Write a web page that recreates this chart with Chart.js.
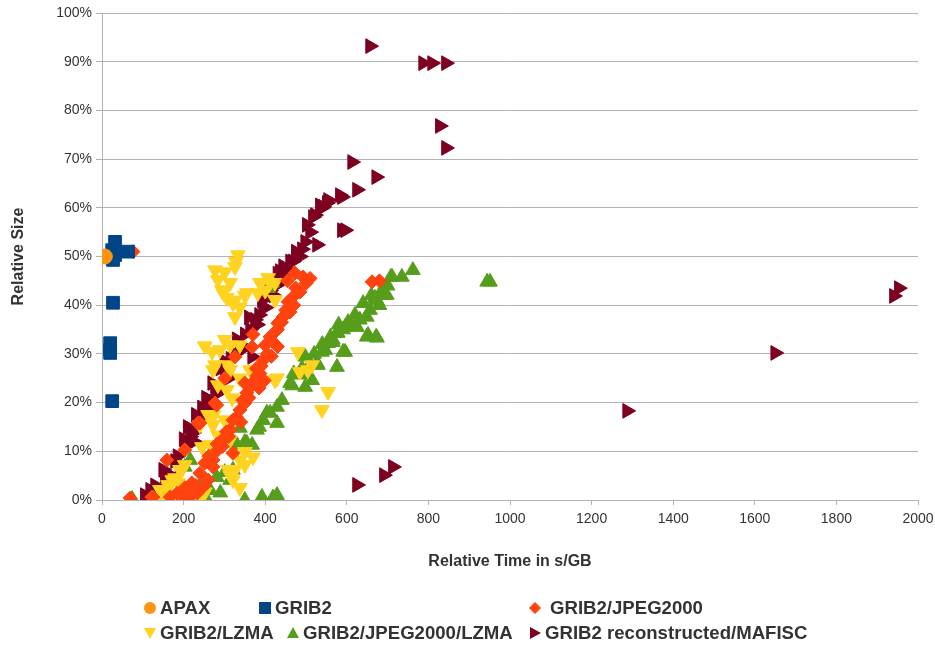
<!DOCTYPE html>
<html>
<head>
<meta charset="utf-8">
<script src="https://cdn.jsdelivr.net/npm/chart.js@4"></script>
<style>
  html, body { margin: 0; padding: 0; background: #fff; }
  #wrap { position: relative; width: 935px; height: 645px; }
  #chart { position: absolute; left: 0; top: 0; }
  .leg { position: absolute; font: bold 18.6px "Liberation Sans", Arial, sans-serif; color: #333; white-space: nowrap; line-height: 20px; }
  .leg svg { position: absolute; top: 3px; }
</style>
</head>
<body>
<div id="wrap">
	<canvas id="chart" width="935" height="645"></canvas>
	<div id="legend"></div>
</div>
<script>
// series names and colours
const seriesNames = ["APAX", "GRIB2", "GRIB2/JPEG2000", "GRIB2/LZMA", "GRIB2/JPEG2000/LZMA", "GRIB2 reconstructed/MAFISC"];
const seriesColors = ["#ff950e", "#004586", "#ff420e", "#ffd320", "#579d1c", "#7e0021"];

// relative time (s/GB) and relative size (%) per series
const apaxX = [7];
const apaxY = [50];

const grib2X = [32, 25, 32, 15, 64, 27, 27, 20, 20, 20, 25];
const grib2Y = [53, 51.3, 50.3, 50, 51, 49.3, 40.5, 32.2, 30.8, 30.2, 20.3];

const jpegX = [76, 69, 122, 159, 203, 240, 281, 301, 326, 370, 272, 321,
	510, 493, 473, 485, 468, 456, 461, 444, 431, 424, 412, 400, 395, 387, 375, 355, 350, 338,
	321, 314, 301, 284, 272, 252, 240, 220, 203, 184, 167, 125, 235, 277, 368, 260, 248, 233,
	345, 362, 380, 390, 405, 418, 430, 440, 450, 470, 475, 500, 455, 290, 305, 330, 262, 282,
	360, 415, 430, 398, 378, 350, 662, 680, 230, 210, 195, 215, 310, 295, 340, 385];
const jpegY = [51, 0.4, 0.6, 8.2, 10.3, 15.8, 19.5, 25, 29.4, 34, 6.8, 9.6,
	45.5, 45.8, 46.6, 42.7, 41.7, 40.7, 38.6, 37.6, 36.3, 34.5, 33.5, 31.8, 28.7, 26, 24.6, 22, 19.9, 18.5,
	16.4, 14.4, 12.7, 10.3, 8.2, 7.6, 5.5, 3.5, 2.5, 1.4, 0.6, 0.6, 15.8, 19.9, 31.4, 4.1, 2.7, 1.4,
	20.5, 23, 25.5, 27.5, 30, 32.5, 35, 36.5, 39, 40, 43.5, 44.5, 45, 12, 14, 17, 9, 11.5,
	21, 29.5, 31.5, 24.5, 27, 24, 44.8, 45, 3, 2.2, 1, 0.5, 13, 11, 16, 23];

const lzmaX = [333, 328, 277, 301, 284, 314, 294, 326, 338, 306, 350, 382, 400, 412, 424, 326,
	297, 321, 326, 355, 387, 407, 424, 252, 270, 289, 314, 338, 301, 277, 314, 363, 309, 272,
	284, 338, 424, 429, 485, 480, 515, 505, 554, 539, 319, 274, 301, 240, 284, 314, 265, 350,
	326, 203, 191, 179, 162, 142, 147, 172, 216, 252, 338, 314, 350, 370, 260, 272, 245, 260,
	196, 172, 186, 159, 223, 245, 309, 321, 338, 306];
const lzmaY = [50.3, 48.9, 47.2, 46.8, 45.2, 44.6, 43.1, 41, 39.6, 41.5, 42, 42.5, 43, 44.6, 44.6, 47.9,
	42.5, 40.4, 37.6, 42.5, 44.6, 45.6, 41.1, 31.6, 30.4, 30.8, 31.8, 31.8, 32.9, 27.7, 26.7, 26.7, 27.7, 26.7,
	23.6, 25, 24.6, 25, 26.3, 30.4, 27.7, 26.7, 22.2, 18.5, 20.9, 17.5, 16.4, 15.4, 13.3, 12.3, 11.3, 9.9,
	6.2, 7.2, 6.2, 4.5, 3.1, 2.1, 0.4, 0.8, 0.6, 1.6, 2.5, 5.1, 7.2, 8.8, 17.5, 15.4, 10.9, 8.8,
	6.2, 4.1, 3.5, 2.1, 1.4, 0.6, 6.2, 4.1, 8.2, 22.6];

const jpegLzmaX = [74, 216, 203, 216, 257, 281, 314, 301, 321, 338, 350, 331, 326, 355, 368, 380,
	385, 395, 404, 412, 429, 429, 441, 461, 466, 485, 498, 515, 498, 527, 529, 539, 554, 566,
	576, 578, 596, 596, 608, 625, 640, 649, 652, 657, 672, 674, 689, 698, 711, 735, 762, 944,
	951, 350, 392, 419, 429, 407, 417, 708, 694, 686, 669, 632, 603, 591, 576, 566, 547, 591,
	649, 674, 240, 265, 290, 470, 490, 510, 520, 540, 560, 580, 620, 660, 700, 680];
const jpegLzmaY = [0.2, 2.1, 6.8, 8.2, 0, 4.7, 4.1, 5.7, 6.2, 14.8, 11.9, 11.3, 11.7, 11.7, 11.3, 14.4,
	15, 16.4, 17.9, 17.9, 15.8, 19.1, 20.5, 24, 23.5, 25.7, 23.2, 24.6, 29.4, 28.1, 27.7, 30.4, 32.2, 32.9,
	27.3, 34.3, 35.5, 30.4, 36.3, 35.5, 40.4, 37.6, 33.9, 39, 33.5, 41, 43.1, 42.1, 45.8, 45.8, 47.2, 44.8,
	44.8, 0, 0.6, 0.5, 1, 43.5, 44.6, 45.8, 42.1, 43, 41.5, 37, 36.5, 35, 34.3, 32.4, 30.8, 30.4,
	33.5, 33.3, 3, 2, 1.5, 26, 27, 28, 30, 32, 33.5, 36, 38, 42, 44, 40];

const mafiscX = [105, 110, 118, 130, 140, 150, 154, 165, 179, 190, 203, 216, 223, 225, 240, 250,
	260, 265, 277, 281, 285, 301, 310, 326, 338, 345, 368, 363, 375, 380, 392, 395, 400, 412,
	420, 436, 445, 453, 461, 468, 444, 485, 498, 502, 510, 517, 522, 527, 534, 539, 542, 551,
	554, 583, 588, 588, 596, 625, 613, 672, 657, 787, 809, 843, 828, 843, 1650, 1287, 1941,
	1953, 625, 691, 713, 170, 185, 200, 210, 230, 245, 255, 270, 290, 300, 315, 330, 350, 360,
	385, 405, 425, 430, 450, 475, 490];
const mafiscY = [1, 0.6, 2.1, 3, 1.5, 6.2, 5, 4, 8, 7, 11, 13, 13.8, 12, 16, 17,
	18.5, 20.5, 23, 22, 22, 26, 25, 30, 32, 31, 29.4, 35, 37, 36, 41, 39.6, 39.5, 43,
	42, 47, 45, 46.6, 49, 49, 48, 50, 53, 56.5, 55, 58.1, 58.5, 52.4, 60.5, 60, 60.2, 61,
	61.6, 62.6, 62.2, 55.4, 55.4, 63.7, 69.4, 66.3, 93.2, 89.7, 89.7, 89.7, 76.8, 72.3, 30.2, 18.3, 41.9,
	43.5, 3.1, 5.1, 6.8, 5, 9, 12.5, 15, 17.5, 19, 21, 24, 27, 28.5, 29, 33, 34, 37.5,
	38, 42, 44, 46.5, 47.5, 51, 51.5];

// x/y tick settings
const xTickStep = 200;
const yTickStep = 10;

function zip(xs, ys) {
	return xs.map((x, i) => ({ x: x, y: ys[i] }));
}

const seriesData = [
	zip(apaxX, apaxY),
	zip(grib2X, grib2Y),
	zip(jpegX, jpegY),
	zip(lzmaX, lzmaY),
	zip(jpegLzmaX, jpegLzmaY),
	zip(mafiscX, mafiscY),
];
const pointStyles = ["circle", "rect", "rectRot", "triangle", "triangle", "triangle"];
const pointRotations = [0, 0, 0, 180, 0, 90];
const pointRadii = [7.5, 9, 7, 8.5, 8.5, 8.5];

const gridColor = "#b3b3b3";
Chart.defaults.font.family = '"Liberation Sans", Arial, sans-serif';
Chart.defaults.color = "#333333";

const ctx = document.getElementById("chart").getContext("2d");
new Chart(ctx, {
	type: "scatter",
	data: {
		datasets: seriesNames.map((name, i) => ({
			label: name,
			data: seriesData[i],
			backgroundColor: seriesColors[i],
			borderColor: seriesColors[i],
			borderWidth: 1,
			pointStyle: pointStyles[i],
			rotation: pointRotations[i],
			pointRadius: pointRadii[i],
			pointHoverRadius: pointRadii[i],
		})),
	},
	options: {
		responsive: false,
		animation: false,
		layout: { padding: { left: 0, top: 13, right: 17, bottom: 70 } },
		plugins: { legend: { display: false }, tooltip: { enabled: false } },
		scales: {
			x: {
				type: "linear",
				min: 0,
				max: 2000,
				ticks: { stepSize: xTickStep, padding: 6, font: { size: 14 }, callback: (v) => String(v) },
				grid: { drawOnChartArea: false, drawTicks: true, tickLength: 5, color: gridColor },
				border: { color: gridColor },
				title: { display: true, text: "Relative Time in s/GB", font: { size: 16, weight: "bold" }, padding: { top: 4, bottom: 4 } },
				afterFit: function (scale) {
					scale.height = 75;
					scale.paddingLeft = 0;
					scale.paddingRight = 0;
				},
			},
			y: {
				type: "linear",
				min: 0,
				max: 100,
				ticks: { stepSize: yTickStep, padding: 4, font: { size: 14 }, callback: (v) => v + "%" },
				grid: { color: gridColor, tickLength: 6 },
				border: { color: gridColor },
				title: { display: true, text: "Relative Size", font: { size: 16, weight: "bold" }, padding: { top: 9, bottom: 0 } },
				afterFit: function (scale) { scale.width = 102; },
			},
		},
	},
});

// legend below the plot, laid out like the original
const legendSlots = [
	{ left: 143, top: 598 }, { left: 258, top: 598 }, { left: 528, top: 598 },
	{ left: 143, top: 623 }, { left: 286, top: 623 }, { left: 528, top: 623 },
];
const legendTextGap = [17, 17, 22, 17, 17, 17];

function markerSvg(i) {
	const c = seriesColors[i];
	let shape = "";
	if (i === 0) shape = `<circle cx="7" cy="7" r="6" fill="${c}"/>`;
	else if (i === 1) shape = `<rect x="1" y="1" width="12" height="12" fill="${c}"/>`;
	else if (i === 2) shape = `<polygon points="7,1 13,7 7,13 1,7" fill="${c}"/>`;
	else if (i === 3) shape = `<polygon points="1,2 13,2 7,13" fill="${c}"/>`;
	else if (i === 4) shape = `<polygon points="7,1 13,12 1,12" fill="${c}"/>`;
	else shape = `<polygon points="2,1 13,7 2,13" fill="${c}"/>`;
	return `<svg width="14" height="14" style="left:0">${shape}</svg>`;
}

const legendEl = document.getElementById("legend");
seriesNames.forEach((name, i) => {
	const item = document.createElement("div");
	item.className = "leg";
	item.style.left = legendSlots[i].left + "px";
	item.style.top = legendSlots[i].top + "px";
	item.innerHTML = markerSvg(i) + `<span style="margin-left:${legendTextGap[i]}px">${name}</span>`;
	legendEl.appendChild(item);
});
</script>
</body>
</html>
